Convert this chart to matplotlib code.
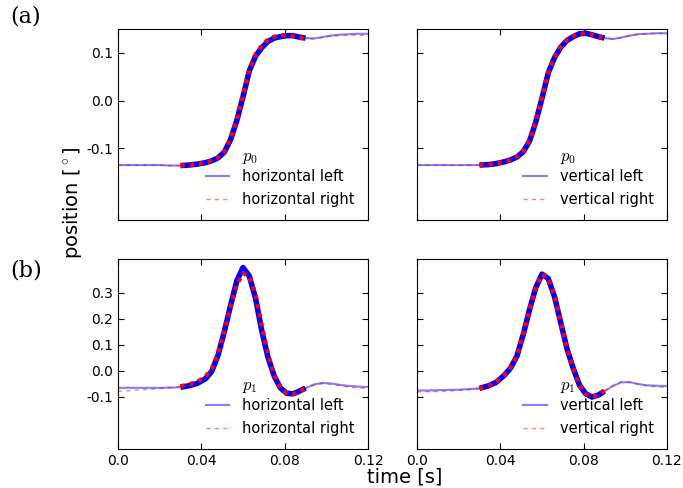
import numpy as np
import matplotlib
matplotlib.use("Agg")
import matplotlib.pyplot as plt

plt.rcParams['axes.unicode_minus'] = False
plt.rcParams['mathtext.fontset'] = 'cm'

# sample times [s]
t = np.array([0, 0.005, 0.01, 0.015, 0.02, 0.025, 0.03, 0.034, 0.038, 0.042,
              0.045, 0.048, 0.051, 0.054, 0.057, 0.060, 0.063, 0.066, 0.069,
              0.072, 0.075, 0.078, 0.081, 0.084, 0.087, 0.090, 0.094, 0.098,
              0.102, 0.106, 0.110, 0.115, 0.120])

# (a) p0
hor_left_p0 = [-0.135, -0.135, -0.135, -0.135, -0.135, -0.136, -0.136, -0.135, -0.133, -0.130,
               -0.126, -0.120, -0.108, -0.082, -0.042, 0.008, 0.062, 0.093, 0.111,
               0.124, 0.131, 0.134, 0.136, 0.136, 0.133, 0.131, 0.130, 0.133,
               0.136, 0.138, 0.139, 0.140, 0.140]
hor_right_p0 = [-0.135, -0.135, -0.135, -0.135, -0.135, -0.136, -0.136, -0.135, -0.133, -0.130,
                -0.126, -0.119, -0.106, -0.080, -0.040, 0.010, 0.064, 0.097, 0.115,
                0.128, 0.134, 0.137, 0.137, 0.135, 0.132, 0.130, 0.130, 0.132,
                0.135, 0.136, 0.137, 0.137, 0.137]
ver_left_p0 = [-0.135, -0.135, -0.135, -0.135, -0.135, -0.135, -0.135, -0.134, -0.132, -0.128,
               -0.124, -0.118, -0.107, -0.085, -0.045, 0.005, 0.058, 0.090, 0.112,
               0.126, 0.134, 0.140, 0.141, 0.138, 0.134, 0.131, 0.129, 0.132,
               0.136, 0.139, 0.140, 0.141, 0.141]
ver_right_p0 = [-0.135, -0.135, -0.135, -0.135, -0.135, -0.135, -0.135, -0.134, -0.132, -0.128,
                -0.124, -0.117, -0.106, -0.084, -0.044, 0.006, 0.059, 0.091, 0.113,
                0.127, 0.135, 0.140, 0.141, 0.138, 0.134, 0.131, 0.129, 0.132,
                0.136, 0.139, 0.140, 0.141, 0.141]

# (b) p1
hor_left_p1 = [-0.065, -0.065, -0.065, -0.065, -0.065, -0.064, -0.063, -0.057, -0.048, -0.030,
               -0.002, 0.060, 0.150, 0.250, 0.345, 0.397, 0.365, 0.280, 0.155,
               0.052, -0.020, -0.066, -0.086, -0.088, -0.078, -0.066, -0.052, -0.046,
               -0.048, -0.053, -0.057, -0.060, -0.062]
hor_right_p1 = [-0.078, -0.076, -0.073, -0.071, -0.068, -0.064, -0.059, -0.052, -0.042, -0.022,
                0.008, 0.068, 0.152, 0.245, 0.330, 0.376, 0.362, 0.295, 0.175,
                0.065, -0.015, -0.064, -0.087, -0.089, -0.080, -0.068, -0.055, -0.049,
                -0.051, -0.056, -0.061, -0.065, -0.068]
ver_left_p1 = [-0.075, -0.075, -0.074, -0.073, -0.072, -0.070, -0.067, -0.058, -0.044, -0.016,
               0.012, 0.058, 0.140, 0.235, 0.320, 0.372, 0.355, 0.285, 0.185,
               0.085, 0.010, -0.055, -0.088, -0.100, -0.093, -0.078, -0.058, -0.044,
               -0.043, -0.050, -0.055, -0.057, -0.058]
ver_right_p1 = [-0.080, -0.080, -0.079, -0.077, -0.075, -0.072, -0.068, -0.058, -0.043, -0.015,
                0.013, 0.060, 0.142, 0.236, 0.320, 0.371, 0.356, 0.287, 0.186,
                0.086, 0.010, -0.056, -0.089, -0.100, -0.092, -0.077, -0.057, -0.042,
                -0.044, -0.051, -0.057, -0.061, -0.063]

panels = [
    (hor_left_p0, hor_right_p0, 'horizontal left', 'horizontal right', r'$p_0$'),
    (ver_left_p0, ver_right_p0, 'vertical left', 'vertical right', r'$p_0$'),
    (hor_left_p1, hor_right_p1, 'horizontal left', 'horizontal right', r'$p_1$'),
    (ver_left_p1, ver_right_p1, 'vertical left', 'vertical right', r'$p_1$'),
]

fig = plt.figure(figsize=(6.83, 4.88), dpi=100)
W, H = 683.0, 488.0
boxes = [
    [118 / W, 1 - 220 / H, 250 / W, 191 / H],
    [417 / W, 1 - 220 / H, 250 / W, 191 / H],
    [118 / W, 1 - 449 / H, 250 / W, 190 / H],
    [417 / W, 1 - 449 / H, 250 / W, 190 / H],
]

win = (t >= 0.03) & (t <= 0.09)

legends = []
for i, (left, right, lab_l, lab_r, title) in enumerate(panels):
    ax = fig.add_axes(boxes[i])
    left = np.array(left)
    right = np.array(right)
    ax.plot(t, left, color='blue', alpha=0.5, lw=1.5, label=lab_l)
    ax.plot(t, right, color='red', alpha=0.5, lw=1.0, ls=(0, (3, 3)), label=lab_r)
    ax.plot(t[win], left[win], color='blue', lw=4, solid_capstyle='butt')
    ax.plot(t[win], right[win], color='red', lw=3, ls=(0, (1, 1.2)))
    ax.set_xlim(0, 0.12)
    ax.set_xticks([0, 0.04, 0.08, 0.12])
    if i < 2:
        ax.set_ylim(-0.25, 0.15)
        ax.set_yticks([-0.1, 0.0, 0.1])
        ax.set_xticklabels([])
    else:
        ax.set_ylim(-0.3, 0.43)
        ax.set_yticks([-0.1, 0.0, 0.1, 0.2, 0.3])
        ax.set_xticklabels(['0.0', '0.04', '0.08', '0.12'])
    if i in (0, 2):
        ax.set_yticklabels(['%.1f' % v for v in ax.get_yticks()])
    else:
        ax.set_yticklabels([])
    ax.tick_params(direction='in', top=True, right=True, length=4, labelsize=10)
    leg = ax.legend(loc='lower right', frameon=False, fontsize=10.5,
                    borderaxespad=0.5, handlelength=1.6, handletextpad=0.9,
                    labelspacing=0.55)
    legends.append((leg, title))

fig.text(10 / W, 1 - 17 / H, '(a)', fontsize=16, family='DejaVu Serif', va='center')
fig.text(10 / W, 1 - 270 / H, '(b)', fontsize=16, family='DejaVu Serif', va='center')
fig.text(73 / W, 1 - 203 / H, r'position [$^\circ$]', fontsize=14, rotation=90,
         ha='center', va='center')
fig.text(405 / W, 1 - 477 / H, 'time [s]', fontsize=14, ha='center', va='center')

# legend titles aligned with the label column
fig.canvas.draw()
for leg, title in legends:
    bb = leg.get_texts()[0].get_window_extent()
    fig.text(bb.x0 / (W), (bb.y1 + 12) / (H), title, fontsize=12,
             ha='left', va='center')

fig.savefig('out.png', dpi=100)
